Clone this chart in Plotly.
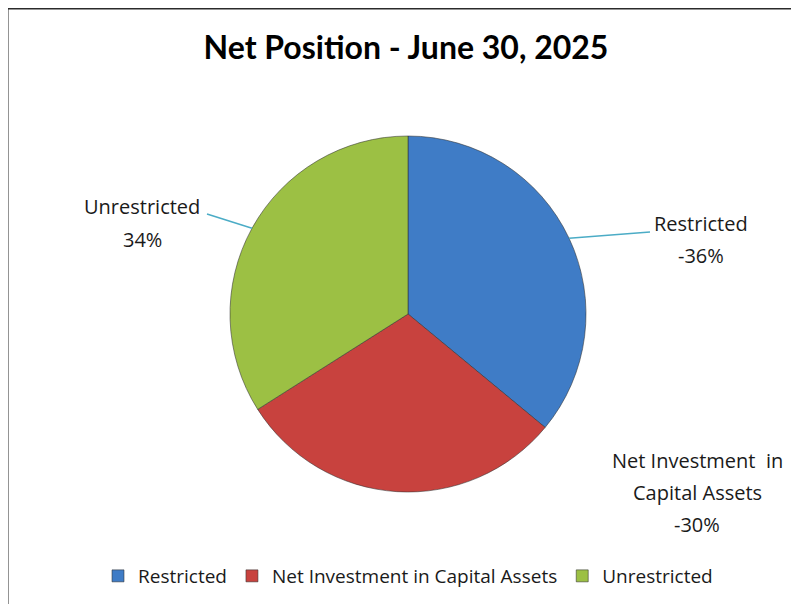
import math
import plotly.graph_objects as go

# ---- data ----
categories = ["Restricted", "Net Investment in Capital Assets", "Unrestricted"]
label_lines = [["Restricted"], ["Net Investment  in", "Capital Assets"], ["Unrestricted"]]
percent_values = [-36, -30, 34]
colors = ["#3F7CC6", "#C8423E", "#9CC044"]
title_text = "Net Position - June 30, 2025"

# page is offset by the default 8px body margin
OFF = 8
W, H = 799 - OFF, 604 - OFF


def px(x):
    return (x - OFF) / W


def py(y):
    return 1 - (y - OFF) / H


# pie geometry (page pixels)
cx, cy, r = 408, 314, 178

fig = go.Figure(
    go.Pie(
        labels=categories,
        values=[abs(v) for v in percent_values],
        sort=False,
        direction="clockwise",
        rotation=0,
        marker=dict(colors=colors, line=dict(color="rgba(50,50,50,0.55)", width=1)),
        textinfo="none",
        hoverinfo="label+percent",
        domain=dict(x=[px(cx - r), px(cx + r)], y=[py(cy + r), py(cy - r)]),
    )
)

# label placement (text centers, page pixels) and leader line end points
label_pos = {0: (701, 223), 1: (697, 460), 2: (142, 207)}
leader_end = {0: (650, 232), 2: (207, 214)}
line_gap = 32

total = sum(abs(v) for v in percent_values)
cum = 0
annotations = []
shapes = []
for i, v in enumerate(percent_values):
    mid = (cum + abs(v) / 2) / total * 2 * math.pi
    cum += abs(v)
    lx, ly = label_pos[i]
    lines = label_lines[i] + [f"{v}%"]
    for k, t in enumerate(lines):
        annotations.append(dict(
            x=px(lx), y=py(ly + k * line_gap), xref="paper", yref="paper",
            text=t, showarrow=False, xanchor="center", yanchor="middle",
            font=dict(family="Open Sans", size=20, color="#1a1a1a"),
        ))
    if i in leader_end:
        sx = cx + r * math.sin(mid)
        sy = cy - r * math.cos(mid)
        ex, ey = leader_end[i]
        shapes.append(dict(type="line", xref="paper", yref="paper",
                           x0=px(sx), y0=py(sy), x1=px(ex), y1=py(ey),
                           line=dict(color="#4BACC6", width=1.5)))

# chart frame (top and left edges visible)
shapes.append(dict(type="rect", xref="paper", yref="paper",
                   x0=px(7.5), y0=-0.05, x1=1.05, y1=py(8.5),
                   line=dict(color="#2b2b2b", width=2), fillcolor="rgba(0,0,0,0)"))

fig.update_layout(
    width=W, height=H,
    margin=dict(l=0, r=0, t=0, b=0),
    paper_bgcolor="white",
    plot_bgcolor="white",
    title=dict(text=f"<b>{title_text}</b>", x=px(406), xanchor="center", y=py(48), yanchor="middle",
               font=dict(family="Lato", size=32, color="#000000")),
    showlegend=True,
    legend=dict(orientation="h", x=px(408), xanchor="center", y=py(576), yanchor="middle",
                font=dict(family="Open Sans", size=19, color="#1a1a1a"),
                itemwidth=30, traceorder="normal"),
    annotations=annotations,
    shapes=shapes,
)

fig.write_html("out.html")
